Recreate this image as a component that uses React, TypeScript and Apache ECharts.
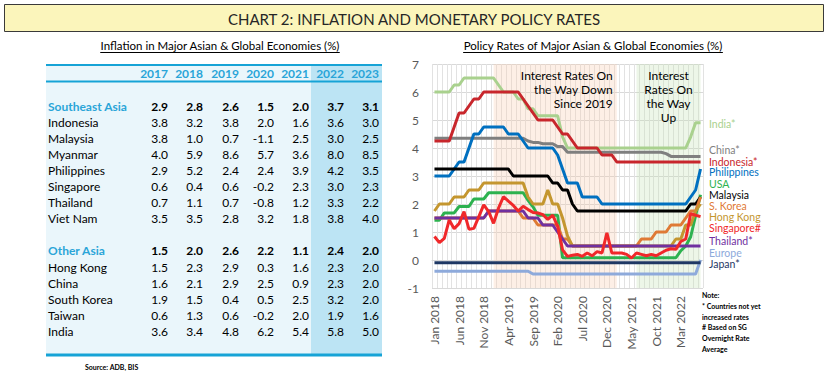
import React, { useEffect, useRef } from "react";
import * as echarts from "echarts";

// ---------------- Table data ----------------
const tableYears = ["2017", "2018", "2019", "2020", "2021", "2022", "2023"];
const seaLabel = "Southeast Asia";
const seaAggregate = [2.9, 2.8, 2.6, 1.5, 2.0, 3.7, 3.1];
const seaCountries = ["Indonesia", "Malaysia", "Myanmar", "Philippines", "Singapore", "Thailand", "Viet Nam"];
const seaValues = [
  [3.8, 3.2, 3.8, 2.0, 1.6, 3.6, 3.0],
  [3.8, 1.0, 0.7, -1.1, 2.5, 3.0, 2.5],
  [4.0, 5.9, 8.6, 5.7, 3.6, 8.0, 8.5],
  [2.9, 5.2, 2.4, 2.4, 3.9, 4.2, 3.5],
  [0.6, 0.4, 0.6, -0.2, 2.3, 3.0, 2.3],
  [0.7, 1.1, 0.7, -0.8, 1.2, 3.3, 2.2],
  [3.5, 3.5, 2.8, 3.2, 1.8, 3.8, 4.0],
];
const otherLabel = "Other Asia";
const otherAggregate = [1.5, 2.0, 2.6, 2.2, 1.1, 2.4, 2.0];
const otherCountries = ["Hong Kong", "China", "South Korea", "Taiwan", "India"];
const otherValues = [
  [1.5, 2.3, 2.9, 0.3, 1.6, 2.3, 2.0],
  [1.6, 2.1, 2.9, 2.5, 0.9, 2.3, 2.0],
  [1.9, 1.5, 0.4, 0.5, 2.5, 3.2, 2.0],
  [0.6, 1.3, 0.6, -0.2, 2.0, 1.9, 1.6],
  [3.6, 3.4, 4.8, 6.2, 5.4, 5.8, 5.0],
];

// ---------------- Policy rate data (Jan 2018 - Jul 2022) ----------------
const monthNames = ["Jan", "Feb", "Mar", "Apr", "May", "Jun", "Jul", "Aug", "Sep", "Oct", "Nov", "Dec"];
const yearList = [2018, 2019, 2020, 2021, 2022];
const monthCount = 55;
const categories: string[] = [];
yearList.forEach((y) => monthNames.forEach((m) => categories.push(`${m} ${y}`)));
categories.length = monthCount;

const india = [
  6, 6, 6, 6, 6.25, 6.25, 6.5, 6.5, 6.5, 6.5, 6.5, 6.5,
  6.5, 6.25, 6, 6, 6, 5.75, 5.75, 5.4, 5.4, 5.15, 5.15, 5.15,
  5.15, 5.15, 4.4, 4, 4, 4, 4, 4, 4, 4, 4, 4,
  4, 4, 4, 4, 4, 4, 4, 4, 4, 4, 4, 4,
  4, 4, 4, 4, 4.4, 4.9, 4.9,
];
const china = [
  4.35, 4.35, 4.35, 4.35, 4.35, 4.35, 4.35, 4.35, 4.35, 4.35, 4.35, 4.35,
  4.35, 4.35, 4.35, 4.35, 4.35, 4.35, 4.35, 4.25, 4.2, 4.2, 4.15, 4.15,
  4.15, 4.05, 4.05, 3.85, 3.85, 3.85, 3.85, 3.85, 3.85, 3.85, 3.85, 3.85,
  3.85, 3.85, 3.85, 3.85, 3.85, 3.85, 3.85, 3.85, 3.85, 3.85, 3.85, 3.8,
  3.7, 3.7, 3.7, 3.7, 3.7, 3.7, 3.7,
];
const indonesia = [
  4.25, 4.25, 4.25, 4.25, 4.75, 5.25, 5.25, 5.5, 5.75, 5.75, 6, 6,
  6, 6, 6, 6, 6, 6, 5.75, 5.5, 5.25, 5, 5, 5,
  5, 4.75, 4.5, 4.5, 4.25, 4, 4, 4, 4, 4, 3.75, 3.75,
  3.75, 3.5, 3.5, 3.5, 3.5, 3.5, 3.5, 3.5, 3.5, 3.5, 3.5, 3.5,
  3.5, 3.5, 3.5, 3.5, 3.5, 3.5, 3.5,
];
const philippines = [
  3, 3, 3, 3, 3.25, 3.5, 3.5, 4, 4.5, 4.5, 4.75, 4.75,
  4.75, 4.75, 4.75, 4.5, 4.5, 4.5, 4.25, 4, 4, 4, 4, 4,
  4, 3.75, 3.25, 2.75, 2.75, 2.75, 2.25, 2.25, 2.25, 2.25, 2, 2,
  2, 2, 2, 2, 2, 2, 2, 2, 2, 2, 2, 2,
  2, 2, 2, 2, 2.25, 2.5, 3.25,
];
const usa = [
  1.42, 1.42, 1.68, 1.68, 1.68, 1.91, 1.91, 1.91, 2.18, 2.18, 2.18, 2.4,
  2.4, 2.4, 2.4, 2.4, 2.4, 2.4, 2.4, 2.13, 1.9, 1.6, 1.6, 1.6,
  1.6, 1.6, 0.08, 0.08, 0.08, 0.08, 0.08, 0.08, 0.08, 0.08, 0.08, 0.08,
  0.08, 0.08, 0.08, 0.08, 0.08, 0.08, 0.08, 0.08, 0.08, 0.08, 0.08, 0.08,
  0.08, 0.08, 0.33, 0.5, 0.83, 1.58, 2.33,
];
const malaysia = [
  3.25, 3.25, 3.25, 3.25, 3.25, 3.25, 3.25, 3.25, 3.25, 3.25, 3.25, 3.25,
  3.25, 3.25, 3.25, 3.25, 3, 3, 3, 3, 3, 3, 3, 3,
  2.75, 2.75, 2.5, 2.5, 2, 1.75, 1.75, 1.75, 1.75, 1.75, 1.75, 1.75,
  1.75, 1.75, 1.75, 1.75, 1.75, 1.75, 1.75, 1.75, 1.75, 1.75, 1.75, 1.75,
  1.75, 1.75, 1.75, 1.75, 2, 2, 2.25,
];
const korea = [
  1.5, 1.5, 1.5, 1.5, 1.5, 1.5, 1.5, 1.5, 1.5, 1.5, 1.5, 1.75,
  1.75, 1.75, 1.75, 1.75, 1.75, 1.75, 1.5, 1.5, 1.5, 1.25, 1.25, 1.25,
  1.25, 1.25, 0.75, 0.75, 0.5, 0.5, 0.5, 0.5, 0.5, 0.5, 0.5, 0.5,
  0.5, 0.5, 0.5, 0.5, 0.5, 0.5, 0.75, 0.75, 0.75, 1, 1, 1,
  1.25, 1.25, 1.25, 1.5, 1.75, 1.75, 2.25,
];
const hongKong = [
  1.75, 2, 2, 2, 2.25, 2.25, 2.25, 2.5, 2.5, 2.5, 2.75, 2.75,
  2.75, 2.75, 2.75, 2.75, 2.75, 2.75, 2.75, 2.25, 2, 2, 2, 2.5,
  2, 2, 1.5, 0.86, 0.5, 0.5, 0.5, 0.5, 0.5, 0.5, 0.5, 0.5,
  0.5, 0.5, 0.5, 0.5, 0.5, 0.5, 0.5, 0.5, 0.5, 0.5, 0.5, 0.5,
  0.5, 0.75, 0.75, 1.25, 1.25, 1.75, 2,
];
const thailand = [
  1.5, 1.5, 1.5, 1.5, 1.5, 1.5, 1.5, 1.5, 1.5, 1.5, 1.5, 1.75,
  1.75, 1.75, 1.75, 1.75, 1.75, 1.75, 1.75, 1.5, 1.5, 1.5, 1.25, 1.25,
  1.25, 1, 0.75, 0.5, 0.5, 0.5, 0.5, 0.5, 0.5, 0.5, 0.5, 0.5,
  0.5, 0.5, 0.5, 0.5, 0.5, 0.5, 0.5, 0.5, 0.5, 0.5, 0.5, 0.5,
  0.5, 0.5, 0.5, 0.5, 0.5, 0.5, 0.5,
];
const singapore = [
  0.84, 0.62, 0.77, 1.43, 1.12, 1.3, 1.73, 1.1, 1.13, 1.55, 1.97, 1.73,
  1.31, 1.85, 2.26, 2.1, 1.95, 1.75, 1.92, 1.8, 1.7, 1.68, 1.62, 1.45,
  1.6, 1.2, 0.36, 0.13, 0.17, 0.2, 0.13, 0.25, 0.15, 0.3, 0.25, 0.97,
  0.25, 0.25, 0.25, 0.2, 0.07, 0.25, 0.2, 0.15, 0.2, 0.15, 0.25, 0.35,
  0.4, 0.38, 0.66, 0.75, 1.65, 1.6, 1.55,
];
const europe = [
  -0.4, -0.4, -0.4, -0.4, -0.4, -0.4, -0.4, -0.4, -0.4, -0.4, -0.4, -0.4,
  -0.4, -0.4, -0.4, -0.4, -0.4, -0.4, -0.4, -0.4, -0.5, -0.5, -0.5, -0.5,
  -0.5, -0.5, -0.5, -0.5, -0.5, -0.5, -0.5, -0.5, -0.5, -0.5, -0.5, -0.5,
  -0.5, -0.5, -0.5, -0.5, -0.5, -0.5, -0.5, -0.5, -0.5, -0.5, -0.5, -0.5,
  -0.5, -0.5, -0.5, -0.5, -0.5, -0.5, 0,
];
const japan = [
  -0.1, -0.1, -0.1, -0.1, -0.1, -0.1, -0.1, -0.1, -0.1, -0.1, -0.1, -0.1,
  -0.1, -0.1, -0.1, -0.1, -0.1, -0.1, -0.1, -0.1, -0.1, -0.1, -0.1, -0.1,
  -0.1, -0.1, -0.1, -0.1, -0.1, -0.1, -0.1, -0.1, -0.1, -0.1, -0.1, -0.1,
  -0.1, -0.1, -0.1, -0.1, -0.1, -0.1, -0.1, -0.1, -0.1, -0.1, -0.1, -0.1,
  -0.1, -0.1, -0.1, -0.1, -0.1, -0.1, -0.1,
];

const legendLabels = ["India*", "China*", "Indonesia*", "Philippines", "USA", "Malaysia", "S. Korea", "Hong Kong", "Singapore#", "Thailand*", "Europe", "Japan*"];
const noteLines = ["Note:", "* Countries not yet", "increased rates", "# Based on SG", "Overnight Rate", "Average"];

const FONT = "Lato, 'Open Sans', sans-serif";

function measure(text: string, size: number, weight = "normal") {
  const ctx = document.createElement("canvas").getContext("2d");
  if (!ctx) return text.length * size * 0.5;
  ctx.font = `${weight} ${size}px Lato`;
  return ctx.measureText(text).width;
}

export default function App() {
  const ref = useRef<HTMLDivElement>(null);

  useEffect(() => {
    document.body.style.margin = "0";
    const chart = echarts.init(ref.current!, null, { renderer: "svg" });

    const seriesDefs = [
      { name: "Europe", data: europe, color: "#8eaadb" },
      { name: "Japan", data: japan, color: "#1f3864" },
      { name: "India", data: india, color: "#a9d18e" },
      { name: "China", data: china, color: "#7f7f7f" },
      { name: "Indonesia", data: indonesia, color: "#c8262c" },
      { name: "Philippines", data: philippines, color: "#0070c0" },
      { name: "USA", data: usa, color: "#2db24f" },
      { name: "Malaysia", data: malaysia, color: "#000000" },
      { name: "S. Korea", data: korea, color: "#df7a35" },
      { name: "Hong Kong", data: hongKong, color: "#c4962f" },
      { name: "Thailand", data: thailand, color: "#7030a0" },
      { name: "Singapore", data: singapore, color: "#f0282a" },
    ];
    const labelColors = ["#a9d18e", "#7f7f7f", "#c8262c", "#0070c0", "#2db24f", "#000000", "#df7a35", "#c4962f", "#f0282a", "#7030a0", "#8eaadb", "#1f3864"];
    const labelY = [123.5, 150.3, 161.5, 172.3, 183.5, 195, 205.5, 216.6, 227.6, 240.7, 253.3, 264.3];

    const graphics: any[] = [];
    // title
    graphics.push({
      type: "rect",
      shape: { x: 4.5, y: 4.5, width: 819, height: 27 },
      style: { fill: "#fbf5bb", stroke: "#3a3a3a", lineWidth: 1 },
    });
    graphics.push({
      type: "text",
      x: 414,
      y: 18.5,
      style: { text: "CHART 2: INFLATION AND MONETARY POLICY RATES", fill: "#262626", fontSize: 15, fontFamily: FONT, align: "center", verticalAlign: "middle" },
    });
    // subtitles with underline
    const subs = [
      { text: "Inflation in Major Asian & Global Economies (%)", cx: 220 },
      { text: "Policy Rates of Major Asian & Global Economies (%)", cx: 593 },
    ];
    subs.forEach((s) => {
      const w = measure(s.text, 11.5);
      graphics.push({
        type: "text",
        x: s.cx,
        y: 45.5,
        style: { text: s.text, fill: "#000", fontSize: 11.5, fontFamily: FONT, align: "center", verticalAlign: "middle" },
      });
      graphics.push({
        type: "line",
        shape: { x1: s.cx - w / 2, y1: 52.5, x2: s.cx + w / 2, y2: 52.5 },
        style: { stroke: "#000", lineWidth: 1 },
      });
    });

    // table
    const tLeft = 46, tRight = 382, tTop = 65, tBottom = 355;
    const hlLeft = 311;
    const colRight = [168, 203, 239, 274, 309, 344, 379];
    const rowY = (k: number) => 73.8 + 16.1 * k;
    const blue = "#16a3d6";
    graphics.push({ type: "rect", shape: { x: tLeft, y: tTop, width: tRight - tLeft, height: tBottom - tTop }, style: { fill: "#eaf6fb" } });
    graphics.push({ type: "rect", shape: { x: hlLeft, y: tTop, width: tRight - hlLeft, height: tBottom - tTop }, style: { fill: "#bce4f4" } });
    graphics.push({ type: "line", shape: { x1: tLeft, y1: tTop, x2: tRight, y2: tTop }, style: { stroke: blue, lineWidth: 2 } });
    graphics.push({ type: "line", shape: { x1: tLeft, y1: 81.5, x2: tRight, y2: 81.5 }, style: { stroke: blue, lineWidth: 2 } });
    graphics.push({ type: "line", shape: { x1: tLeft, y1: tBottom, x2: tRight, y2: tBottom }, style: { stroke: blue, lineWidth: 3 } });
    tableYears.forEach((yr, c) => {
      graphics.push({
        type: "text",
        x: colRight[c],
        y: rowY(0),
        style: { text: yr, fill: "#2aa5d8", fontSize: 12, fontWeight: "bold", fontFamily: FONT, align: "right", verticalAlign: "middle" },
      });
    });
    const rows: { label: string; values: number[]; group: boolean; k: number }[] = [
      { label: seaLabel, values: seaAggregate, group: true, k: 2 },
      ...seaCountries.map((c, j) => ({ label: c, values: seaValues[j], group: false, k: 3 + j })),
      { label: otherLabel, values: otherAggregate, group: true, k: 11 },
      ...otherCountries.map((c, j) => ({ label: c, values: otherValues[j], group: false, k: 12 + j })),
    ];
    rows.forEach((r) => {
      graphics.push({
        type: "text",
        x: 48,
        y: rowY(r.k),
        style: { text: r.label, fill: r.group ? "#2aa5d8" : "#000", fontSize: 12, fontWeight: r.group ? "bold" : "normal", fontFamily: FONT, align: "left", verticalAlign: "middle" },
      });
      r.values.forEach((v, c) => {
        graphics.push({
          type: "text",
          x: colRight[c],
          y: rowY(r.k),
          style: { text: v.toFixed(1), fill: "#000", fontSize: 12, fontWeight: r.group ? "bold" : "normal", fontFamily: FONT, align: "right", verticalAlign: "middle" },
        });
      });
    });
    graphics.push({
      type: "text",
      x: 85,
      y: 366.5,
      style: { text: "Source: ADB, BIS", fill: "#000", fontSize: 7, fontWeight: "bold", fontFamily: FONT, align: "left", verticalAlign: "middle" },
    });

    // series end labels
    legendLabels.forEach((t, i) => {
      graphics.push({
        type: "text",
        x: 709,
        y: labelY[i],
        style: { text: t, fill: labelColors[i], fontSize: 10.5, lineHeight: 10, fontFamily: FONT, align: "left", verticalAlign: "middle" },
      });
    });
    // notes
    noteLines.forEach((t, i) => {
      graphics.push({
        type: "text",
        x: 702,
        y: 295 + i * 10.8,
        style: { text: t, fill: "#000", fontSize: 7, fontWeight: "bold", fontFamily: FONT, align: "left", verticalAlign: "middle" },
      });
    });

    const areaLabel = { show: true, color: "#000", fontSize: 12, lineHeight: 14, fontFamily: FONT };

    const option: any = {
      animation: false,
      backgroundColor: "#ffffff",
      textStyle: { fontFamily: FONT },
      grid: { left: 432, right: 125, top: 64, bottom: 91, containLabel: false },
      xAxis: {
        type: "category",
        data: categories,
        boundaryGap: true,
        axisLine: { show: true, lineStyle: { color: "#d9d9d9" } },
        axisTick: { show: false },
        axisLabel: { interval: 4, rotate: 90, color: "#595959", fontSize: 12, margin: 8, fontFamily: FONT },
        splitLine: { show: true, interval: 0, lineStyle: { color: "#e2e2e2", width: 1 } },
      },
      yAxis: {
        type: "value",
        min: -1,
        max: 7,
        interval: 1,
        axisLine: { show: false },
        axisTick: { show: false },
        axisLabel: { color: "#595959", fontSize: 12, margin: 13, fontFamily: FONT },
        splitLine: { show: true, lineStyle: { color: "#d9d9d9" } },
      },
      series: [
        ...seriesDefs.map((s) => ({
          name: s.name,
          type: "line",
          data: s.data,
          showSymbol: false,
          symbol: "none",
          lineStyle: { color: s.color, width: 3 },
          itemStyle: { color: s.color },
          z: 3,
        })),
        {
          name: "overlay",
          type: "line",
          data: [],
          z: 8,
          silent: true,
          markArea: {
            silent: true,
            data: [
              [
                {
                  name: "Interest Rates On\nthe Way Down\nSince 2019",
                  xAxis: "Jan 2019",
                  itemStyle: { color: "rgba(248,203,173,0.3)" },
                  label: { ...areaLabel, position: "insideTopRight", distance: 4 },
                },
                { xAxis: "Feb 2021" },
              ],
              [
                {
                  name: "Interest\nRates On\nthe Way\nUp",
                  xAxis: "Jun 2021",
                  itemStyle: { color: "rgba(197,224,180,0.3)" },
                  label: { ...areaLabel, position: "insideTop", distance: 4 },
                },
                { xAxis: "Jul 2022" },
              ],
            ],
          },
        },
      ],
      graphic: { elements: graphics },
    };

    chart.setOption(option);
    return () => chart.dispose();
  }, []);

  return <div ref={ref} style={{ width: 828, height: 379, background: "#fff" }} />;
}
